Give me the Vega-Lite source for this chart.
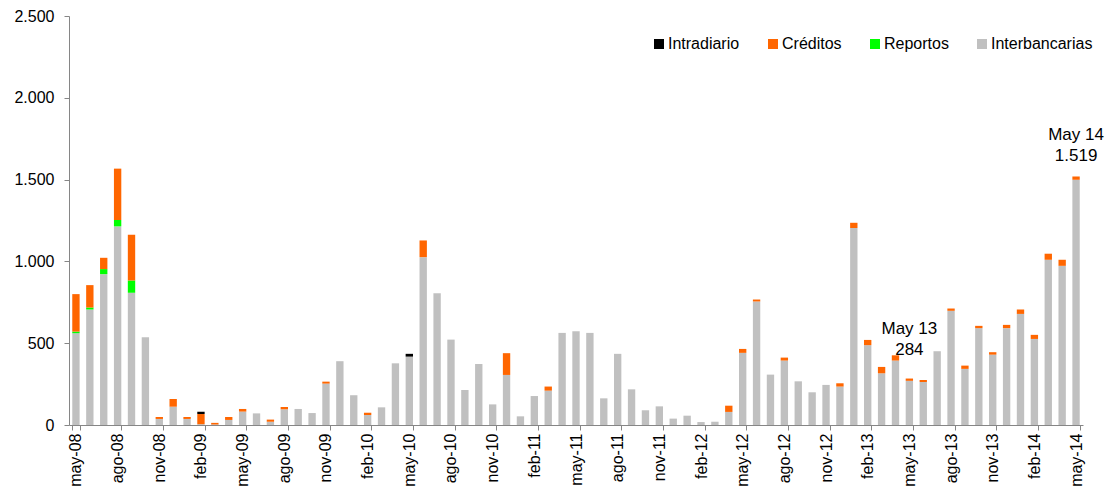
{
  "$schema": "https://vega.github.io/schema/vega-lite/v6.json",
  "autosize": "none",
  "width": 1014,
  "height": 409,
  "padding": {"left": 69, "top": 16, "right": 27, "bottom": 72},
  "background": "white",
  "config": {
    "font": "Liberation Sans",
    "view": {"stroke": null},
    "axis": {"labelFont": "Liberation Sans", "labelFontSize": 16, "labelColor": "#000000", "domainColor": "#868686", "tickColor": "#868686", "tickSize": 5, "grid": false, "title": null}
  },
  "data": {
    "values": [
      {"m": "may-08", "Interbancarias": 561, "Reportos": 10, "Créditos": 229, "Intradiario": 0},
      {"m": "jun-08", "Interbancarias": 706, "Reportos": 12, "Créditos": 137, "Intradiario": 0},
      {"m": "jul-08", "Interbancarias": 922, "Reportos": 31, "Créditos": 69, "Intradiario": 0},
      {"m": "ago-08", "Interbancarias": 1214, "Reportos": 39, "Créditos": 314, "Intradiario": 0},
      {"m": "sep-08", "Interbancarias": 808, "Reportos": 75, "Créditos": 280, "Intradiario": 0},
      {"m": "oct-08", "Interbancarias": 537, "Reportos": 0, "Créditos": 0, "Intradiario": 0},
      {"m": "nov-08", "Interbancarias": 37, "Reportos": 0, "Créditos": 12, "Intradiario": 0},
      {"m": "dic-08", "Interbancarias": 112, "Reportos": 0, "Créditos": 47, "Intradiario": 0},
      {"m": "ene-09", "Interbancarias": 37, "Reportos": 0, "Créditos": 12, "Intradiario": 0},
      {"m": "feb-09", "Interbancarias": 5, "Reportos": 0, "Créditos": 62, "Intradiario": 14},
      {"m": "mar-09", "Interbancarias": 3, "Reportos": 0, "Créditos": 10, "Intradiario": 0},
      {"m": "abr-09", "Interbancarias": 31, "Reportos": 0, "Créditos": 18, "Intradiario": 0},
      {"m": "may-09", "Interbancarias": 82, "Reportos": 0, "Créditos": 16, "Intradiario": 0},
      {"m": "jun-09", "Interbancarias": 71, "Reportos": 0, "Créditos": 0, "Intradiario": 0},
      {"m": "jul-09", "Interbancarias": 20, "Reportos": 0, "Créditos": 13, "Intradiario": 0},
      {"m": "ago-09", "Interbancarias": 96, "Reportos": 0, "Créditos": 14, "Intradiario": 0},
      {"m": "sep-09", "Interbancarias": 98, "Reportos": 0, "Créditos": 0, "Intradiario": 0},
      {"m": "oct-09", "Interbancarias": 73, "Reportos": 0, "Créditos": 0, "Intradiario": 0},
      {"m": "nov-09", "Interbancarias": 253, "Reportos": 0, "Créditos": 12, "Intradiario": 0},
      {"m": "dic-09", "Interbancarias": 390, "Reportos": 0, "Créditos": 0, "Intradiario": 0},
      {"m": "ene-10", "Interbancarias": 182, "Reportos": 0, "Créditos": 0, "Intradiario": 0},
      {"m": "feb-10", "Interbancarias": 61, "Reportos": 0, "Créditos": 14, "Intradiario": 0},
      {"m": "mar-10", "Interbancarias": 108, "Reportos": 0, "Créditos": 0, "Intradiario": 0},
      {"m": "abr-10", "Interbancarias": 377, "Reportos": 0, "Créditos": 0, "Intradiario": 0},
      {"m": "may-10", "Interbancarias": 418, "Reportos": 0, "Créditos": 0, "Intradiario": 17},
      {"m": "jun-10", "Interbancarias": 1026, "Reportos": 0, "Créditos": 102, "Intradiario": 0},
      {"m": "jul-10", "Interbancarias": 806, "Reportos": 0, "Créditos": 0, "Intradiario": 0},
      {"m": "ago-10", "Interbancarias": 522, "Reportos": 0, "Créditos": 0, "Intradiario": 0},
      {"m": "sep-10", "Interbancarias": 214, "Reportos": 0, "Créditos": 0, "Intradiario": 0},
      {"m": "oct-10", "Interbancarias": 373, "Reportos": 0, "Créditos": 0, "Intradiario": 0},
      {"m": "nov-10", "Interbancarias": 126, "Reportos": 0, "Créditos": 0, "Intradiario": 0},
      {"m": "dic-10", "Interbancarias": 306, "Reportos": 0, "Créditos": 133, "Intradiario": 0},
      {"m": "ene-11", "Interbancarias": 53, "Reportos": 0, "Créditos": 0, "Intradiario": 0},
      {"m": "feb-11", "Interbancarias": 177, "Reportos": 0, "Créditos": 0, "Intradiario": 0},
      {"m": "mar-11", "Interbancarias": 210, "Reportos": 0, "Créditos": 25, "Intradiario": 0},
      {"m": "abr-11", "Interbancarias": 563, "Reportos": 0, "Créditos": 0, "Intradiario": 0},
      {"m": "may-11", "Interbancarias": 573, "Reportos": 0, "Créditos": 0, "Intradiario": 0},
      {"m": "jun-11", "Interbancarias": 563, "Reportos": 0, "Créditos": 0, "Intradiario": 0},
      {"m": "jul-11", "Interbancarias": 163, "Reportos": 0, "Créditos": 0, "Intradiario": 0},
      {"m": "ago-11", "Interbancarias": 435, "Reportos": 0, "Créditos": 0, "Intradiario": 0},
      {"m": "sep-11", "Interbancarias": 218, "Reportos": 0, "Créditos": 0, "Intradiario": 0},
      {"m": "oct-11", "Interbancarias": 90, "Reportos": 0, "Créditos": 0, "Intradiario": 0},
      {"m": "nov-11", "Interbancarias": 114, "Reportos": 0, "Créditos": 0, "Intradiario": 0},
      {"m": "dic-11", "Interbancarias": 39, "Reportos": 0, "Créditos": 0, "Intradiario": 0},
      {"m": "ene-12", "Interbancarias": 57, "Reportos": 0, "Créditos": 0, "Intradiario": 0},
      {"m": "feb-12", "Interbancarias": 18, "Reportos": 0, "Créditos": 0, "Intradiario": 0},
      {"m": "mar-12", "Interbancarias": 20, "Reportos": 0, "Créditos": 0, "Intradiario": 0},
      {"m": "abr-12", "Interbancarias": 80, "Reportos": 0, "Créditos": 38, "Intradiario": 0},
      {"m": "may-12", "Interbancarias": 441, "Reportos": 0, "Créditos": 24, "Intradiario": 0},
      {"m": "jun-12", "Interbancarias": 755, "Reportos": 0, "Créditos": 12, "Intradiario": 0},
      {"m": "jul-12", "Interbancarias": 308, "Reportos": 0, "Créditos": 0, "Intradiario": 0},
      {"m": "ago-12", "Interbancarias": 394, "Reportos": 0, "Créditos": 18, "Intradiario": 0},
      {"m": "sep-12", "Interbancarias": 267, "Reportos": 0, "Créditos": 0, "Intradiario": 0},
      {"m": "oct-12", "Interbancarias": 200, "Reportos": 0, "Créditos": 0, "Intradiario": 0},
      {"m": "nov-12", "Interbancarias": 245, "Reportos": 0, "Créditos": 0, "Intradiario": 0},
      {"m": "dic-12", "Interbancarias": 235, "Reportos": 0, "Créditos": 20, "Intradiario": 0},
      {"m": "ene-13", "Interbancarias": 1204, "Reportos": 0, "Créditos": 32, "Intradiario": 0},
      {"m": "feb-13", "Interbancarias": 488, "Reportos": 0, "Créditos": 32, "Intradiario": 0},
      {"m": "mar-13", "Interbancarias": 316, "Reportos": 0, "Créditos": 39, "Intradiario": 0},
      {"m": "abr-13", "Interbancarias": 394, "Reportos": 0, "Créditos": 32, "Intradiario": 0},
      {"m": "may-13", "Interbancarias": 270, "Reportos": 0, "Créditos": 14, "Intradiario": 0, "nota": "May 13\n284"},
      {"m": "jun-13", "Interbancarias": 263, "Reportos": 0, "Créditos": 12, "Intradiario": 0},
      {"m": "jul-13", "Interbancarias": 451, "Reportos": 0, "Créditos": 0, "Intradiario": 0},
      {"m": "ago-13", "Interbancarias": 698, "Reportos": 0, "Créditos": 14, "Intradiario": 0},
      {"m": "sep-13", "Interbancarias": 343, "Reportos": 0, "Créditos": 20, "Intradiario": 0},
      {"m": "oct-13", "Interbancarias": 592, "Reportos": 0, "Créditos": 14, "Intradiario": 0},
      {"m": "nov-13", "Interbancarias": 430, "Reportos": 0, "Créditos": 15, "Intradiario": 0},
      {"m": "dic-13", "Interbancarias": 592, "Reportos": 0, "Créditos": 20, "Intradiario": 0},
      {"m": "ene-14", "Interbancarias": 679, "Reportos": 0, "Créditos": 27, "Intradiario": 0},
      {"m": "feb-14", "Interbancarias": 526, "Reportos": 0, "Créditos": 25, "Intradiario": 0},
      {"m": "mar-14", "Interbancarias": 1010, "Reportos": 0, "Créditos": 37, "Intradiario": 0},
      {"m": "abr-14", "Interbancarias": 973, "Reportos": 0, "Créditos": 37, "Intradiario": 0},
      {"m": "may-14", "Interbancarias": 1499, "Reportos": 0, "Créditos": 20, "Intradiario": 0, "nota": "May 14\n1.519"}
    ]
  },
  "transform": [
    {"fold": ["Interbancarias", "Reportos", "Créditos", "Intradiario"], "as": ["serie", "valor"]}
  ],
  "encoding": {
    "x": {
      "field": "m", "type": "ordinal", "sort": null,
      "scale": {"paddingInner": 0.47, "paddingOuter": 0.235},
      "axis": {
        "values": ["may-08","ago-08","nov-08","feb-09","may-09","ago-09","nov-09","feb-10","may-10","ago-10","nov-10","feb-11","may-11","ago-11","nov-11","feb-12","may-12","ago-12","nov-12","feb-13","may-13","ago-13","nov-13","feb-14","may-14"],
        "tickBand": "extent", "labelAngle": -90, "labelPadding": 3
      }
    }
  },
  "layer": [
    {
      "transform": [{"window": [{"op": "row_number", "as": "pila"}], "groupby": ["m"]}],
      "mark": {"type": "bar"},
      "encoding": {
        "y": {
          "field": "valor", "type": "quantitative", "stack": "zero",
          "scale": {"domain": [0, 2500], "nice": false},
          "axis": {"values": [0, 500, 1000, 1500, 2000, 2500], "labelExpr": "replace(format(datum.value, ','), ',', '.')", "labelPadding": 10}
        },
        "order": {"field": "pila", "type": "quantitative", "sort": "ascending"},
        "color": {
          "field": "serie", "type": "nominal",
          "scale": {"domain": ["Interbancarias", "Reportos", "Créditos", "Intradiario"], "range": ["#C0C0C0", "#00FF00", "#FF6600", "#000000"]},
          "legend": {
            "values": ["Intradiario", "Créditos", "Reportos", "Interbancarias"],
            "orient": "none", "direction": "horizontal", "legendX": 582, "legendY": 20,
            "title": null, "symbolType": "square", "symbolSize": 100, "symbolStrokeWidth": 0,
            "labelFont": "Liberation Sans", "labelFontSize": 16, "labelColor": "#000000",
            "labelOffset": 1, "columnPadding": 25
          }
        }
      }
    },
    {
      "transform": [{"filter": "datum.nota === 'May 13\\n284'"}],
      "mark": {"type": "text", "baseline": "bottom", "align": "center", "fontSize": 17, "lineBreak": "\n", "lineHeight": 21, "dy": -41, "font": "Liberation Sans", "color": "#000000"},
      "encoding": {
        "y": {"aggregate": "sum", "field": "valor", "type": "quantitative"},
        "text": {"field": "nota", "type": "nominal"}
      }
    },
    {
      "transform": [{"filter": "datum.nota === 'May 14\\n1.519'"}],
      "mark": {"type": "text", "baseline": "bottom", "align": "center", "fontSize": 17, "lineBreak": "\n", "lineHeight": 21, "dy": -32, "font": "Liberation Sans", "color": "#000000"},
      "encoding": {
        "y": {"aggregate": "sum", "field": "valor", "type": "quantitative"},
        "text": {"field": "nota", "type": "nominal"}
      }
    }
  ]
}
